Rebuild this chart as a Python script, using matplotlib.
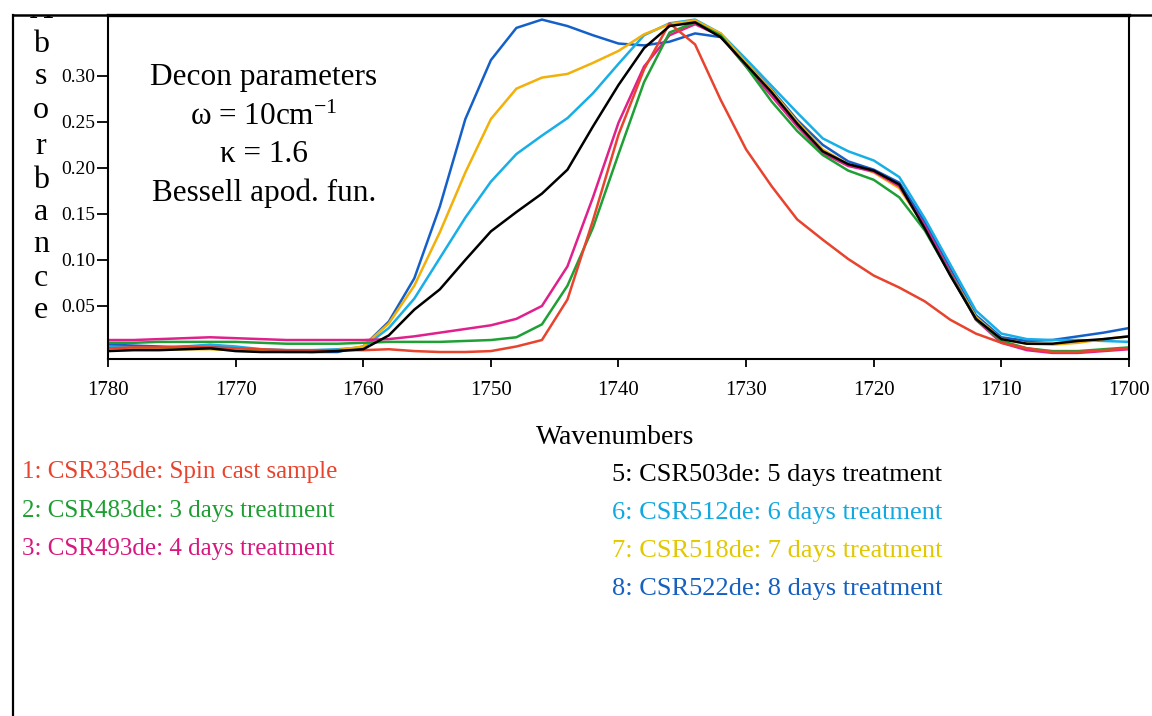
import matplotlib
matplotlib.use("Agg")
import matplotlib.pyplot as plt
from matplotlib.lines import Line2D
from matplotlib.transforms import Bbox, TransformedBbox

plt.rcParams['font.family'] = ['Liberation Serif', 'DejaVu Serif']
plt.rcParams['mathtext.fontset'] = 'custom'
plt.rcParams['mathtext.rm'] = 'Liberation Serif'
plt.rcParams['mathtext.it'] = 'Liberation Serif:italic'
plt.rcParams['mathtext.bf'] = 'Liberation Serif:bold'

wavenumbers = [1780, 1778, 1776, 1774, 1772, 1770, 1768, 1766, 1764, 1762,
               1760, 1758, 1756, 1754, 1752, 1750, 1748, 1746, 1744, 1742,
               1740, 1738, 1736, 1734, 1732, 1730, 1728, 1726, 1724, 1722,
               1720, 1718, 1716, 1714, 1712, 1710, 1708, 1706, 1704, 1702, 1700]

s1_csr335 = [0.004, 0.005, 0.005, 0.006, 0.005, 0.004, 0.003, 0.002, 0.002, 0.002,
             0.002, 0.003, 0.001, 0.000, 0.000, 0.001, 0.006, 0.013, 0.057, 0.143,
             0.236, 0.307, 0.357, 0.334, 0.274, 0.220, 0.180, 0.144, 0.122, 0.101,
             0.083, 0.070, 0.055, 0.035, 0.020, 0.010, 0.004, 0.000, 0.000, 0.002, 0.004]
s2_csr483 = [0.010, 0.010, 0.011, 0.011, 0.011, 0.011, 0.010, 0.009, 0.009, 0.009,
             0.010, 0.011, 0.011, 0.011, 0.012, 0.013, 0.016, 0.030, 0.072, 0.135,
             0.215, 0.293, 0.347, 0.358, 0.344, 0.310, 0.272, 0.240, 0.214, 0.197,
             0.187, 0.168, 0.132, 0.084, 0.036, 0.012, 0.004, 0.001, 0.001, 0.003, 0.005]
s3_csr493 = [0.013, 0.013, 0.014, 0.015, 0.016, 0.015, 0.014, 0.013, 0.013, 0.013,
             0.013, 0.014, 0.017, 0.021, 0.025, 0.029, 0.036, 0.050, 0.093, 0.168,
             0.249, 0.310, 0.344, 0.356, 0.343, 0.310, 0.278, 0.245, 0.216, 0.202,
             0.196, 0.180, 0.137, 0.086, 0.035, 0.010, 0.002, -0.001, -0.001, 0.001, 0.003]
s5_csr503 = [0.001, 0.002, 0.002, 0.003, 0.004, 0.001, 0.000, 0.000, 0.000, 0.001,
             0.003, 0.018, 0.046, 0.068, 0.100, 0.131, 0.152, 0.172, 0.198, 0.245,
             0.290, 0.330, 0.354, 0.358, 0.342, 0.312, 0.282, 0.248, 0.218, 0.204,
             0.197, 0.182, 0.134, 0.083, 0.036, 0.014, 0.009, 0.009, 0.012, 0.014, 0.017]
s6_csr512 = [0.006, 0.005, 0.004, 0.006, 0.008, 0.006, 0.003, 0.002, 0.002, 0.003,
             0.005, 0.026, 0.058, 0.102, 0.146, 0.185, 0.215, 0.235, 0.254, 0.281,
             0.313, 0.344, 0.357, 0.361, 0.346, 0.318, 0.289, 0.260, 0.232, 0.218,
             0.208, 0.190, 0.145, 0.095, 0.045, 0.020, 0.014, 0.013, 0.013, 0.012, 0.011]
s7_csr518 = [0.004, 0.004, 0.003, 0.003, 0.003, 0.002, 0.001, 0.000, 0.000, 0.002,
             0.006, 0.031, 0.072, 0.130, 0.195, 0.253, 0.286, 0.298, 0.302, 0.314,
             0.327, 0.345, 0.356, 0.360, 0.346, 0.314, 0.284, 0.250, 0.220, 0.204,
             0.195, 0.178, 0.136, 0.086, 0.038, 0.014, 0.009, 0.008, 0.010, 0.014, 0.017]
s8_csr522 = [0.008, 0.007, 0.006, 0.005, 0.006, 0.004, 0.002, 0.001, 0.000, 0.000,
             0.006, 0.033, 0.080, 0.158, 0.253, 0.317, 0.352, 0.361, 0.354, 0.344,
             0.335, 0.333, 0.337, 0.346, 0.342, 0.314, 0.285, 0.252, 0.225, 0.207,
             0.198, 0.184, 0.141, 0.090, 0.040, 0.016, 0.012, 0.013, 0.017, 0.021, 0.026]

series = [s8_csr522, s6_csr512, s7_csr518, s3_csr493, s2_csr483, s1_csr335, s5_csr503]
line_colors = ['#1560c8', '#18aee6', '#f2b00a', '#e0208c', '#1ea035', '#e8432d', '#000000']

legend_left = ["1: CSR335de: Spin cast sample", "2: CSR483de: 3 days treatment",
               "3: CSR493de: 4 days treatment"]
legend_left_colors = ['#e8432d', '#1e9e32', '#d8187f']
legend_right = ["5: CSR503de: 5 days treatment", "6: CSR512de: 6 days treatment",
                "7: CSR518de: 7 days treatment", "8: CSR522de: 8 days treatment"]
legend_right_colors = ['#000000', '#12a8e0', '#e2c800', '#1560c0']

decon_lines = ["Decon parameters", "\u03c9 = 10cm$^{\\mathrm{-1}}$", "\u03ba = 1.6",
               "Bessell apod. fun."]

xticks = [1780, 1770, 1760, 1750, 1740, 1730, 1720, 1710, 1700]
yticks = [0.05, 0.10, 0.15, 0.20, 0.25, 0.30]
ylabel_letters = ['A', 'b', 's', 'o', 'r', 'b', 'a', 'n', 'c', 'e']

W, H = 1152, 716
fig = plt.figure(figsize=(W / 100, H / 100), dpi=100)
ax = fig.add_axes([108 / W, 1 - 359 / H, (1129 - 108) / W, (359 - 15) / H])

for ys, c in zip(series, line_colors):
    ax.plot(wavenumbers, ys, color=c, lw=1.8, solid_joinstyle='round')

ax.set_xlim(1780, 1700)
ax.set_ylim(-0.0076, 0.366)
ax.set_xticks(xticks)
ax.set_xticklabels([str(t) for t in xticks], fontsize=15)
ax.set_yticks(yticks)
ax.set_yticklabels([f"{t:.2f}" for t in yticks], fontsize=14)
ax.tick_params(axis='x', direction='out', length=6, width=1.3, pad=10)
ax.tick_params(axis='y', direction='out', length=8, width=1.3, pad=1)
for sp in ax.spines.values():
    sp.set_linewidth(1.5)
ax.spines['top'].set_linewidth(2.4)

decon_y = [77, 117, 155, 193]
for txt, yy in zip(decon_lines, decon_y):
    fig.text(264 / W, 1 - yy / H, txt, ha='center', va='center', fontsize=22.5)

fig.text(615 / W, 1 - 437 / H, "Wavenumbers", ha='center', va='center', fontsize=20)

# outer frame lines
fig.add_artist(Line2D([13 / W, 1.0], [1 - 15 / H, 1 - 15 / H], transform=fig.transFigure,
                      color='black', lw=1.8))
fig.add_artist(Line2D([13 / W, 13 / W], [1 - 15 / H, 0], transform=fig.transFigure,
                      color='black', lw=1.6))

# vertical y-label letters (the top "A" is partly hidden by the frame, as in the original)
letter_y = [10, 44, 77, 111, 146, 180, 213, 245, 278, 310]
clip = TransformedBbox(Bbox([[0, 0], [1, 1 - 16 / H]]), fig.transFigure)
for ch, yy in zip(ylabel_letters, letter_y):
    t = fig.text(41 / W, 1 - yy / H, ch, ha='center', va='center', fontsize=23)
    t.set_clip_box(clip)
    t.set_clip_on(True)

for i, (txt, c) in enumerate(zip(legend_left, legend_left_colors)):
    fig.text(22 / W, 1 - (472 + 38.5 * i) / H, txt, color=c, ha='left', va='center', fontsize=18)
for i, (txt, c) in enumerate(zip(legend_right, legend_right_colors)):
    fig.text(612 / W, 1 - (475 + 38 * i) / H, txt, color=c, ha='left', va='center', fontsize=19)

fig.savefig("out.png", dpi=100)
